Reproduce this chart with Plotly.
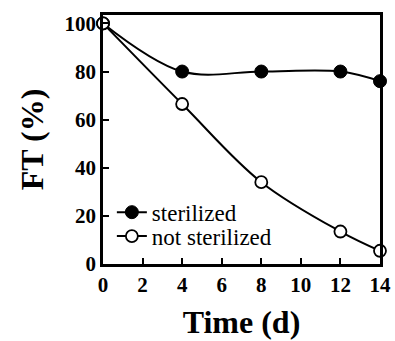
import plotly.graph_objects as go

time_d = [0, 4, 8, 12, 14]
sterilized = [100, 80, 80, 80, 76]
not_sterilized = [100, 66.5, 34, 13.5, 5.5]
x_ticks = [0, 2, 4, 6, 8, 10, 12, 14]
y_ticks = [0, 20, 40, 60, 80, 100]

FONT = "Times New Roman, Liberation Serif, serif"

fig = go.Figure()
fig.add_trace(go.Scatter(
    x=time_d, y=sterilized, name="sterilized", mode="lines+markers",
    line=dict(color="black", width=2, shape="spline", smoothing=1),
    marker=dict(symbol="circle", size=13, color="black", line=dict(color="black", width=1)),
    cliponaxis=False, legend="legend"))
fig.add_trace(go.Scatter(
    x=time_d, y=not_sterilized, name="not sterilized", mode="lines+markers",
    line=dict(color="black", width=2, shape="spline", smoothing=1),
    marker=dict(symbol="circle", size=12, color="white", line=dict(color="black", width=1.8)),
    cliponaxis=False, legend="legend2"))

leg_common = dict(xanchor="left", yanchor="middle", bgcolor="rgba(0,0,0,0)",
                  font=dict(family=FONT, size=23, color="black"), itemwidth=30)

fig.update_layout(
    width=395, height=341,
    margin=dict(l=103, r=12, t=14, b=77),
    paper_bgcolor="white", plot_bgcolor="white",
    font=dict(family=FONT, color="black"),
    showlegend=True,
    legend=dict(x=0.032, y=(264 - 212) / 250, **leg_common),
    legend2=dict(x=0.032, y=(264 - 236) / 250, **leg_common),
    xaxis=dict(range=[0, 14], tickvals=x_ticks, ticks="inside", ticklen=6, tickwidth=2,
               tickcolor="black", showline=True, linecolor="black", linewidth=2.5, mirror=True,
               showgrid=False, zeroline=False, automargin=False,
               tickfont=dict(family=FONT, size=21, weight="bold", color="black"),
               title=dict(text="Time (d)", font=dict(family=FONT, size=32, weight="bold"))),
    yaxis=dict(range=[0, 103.5], tickvals=y_ticks, ticks="inside", ticklen=6, tickwidth=2,
               tickcolor="black", showline=True, linecolor="black", linewidth=2.5, mirror=True,
               showgrid=False, zeroline=False,
               tickfont=dict(family=FONT, size=21, weight="bold", color="black"),
               title=dict(text="FT (%)", font=dict(family=FONT, size=32, weight="bold"), standoff=12)),
)

fig.write_html("out.html")
